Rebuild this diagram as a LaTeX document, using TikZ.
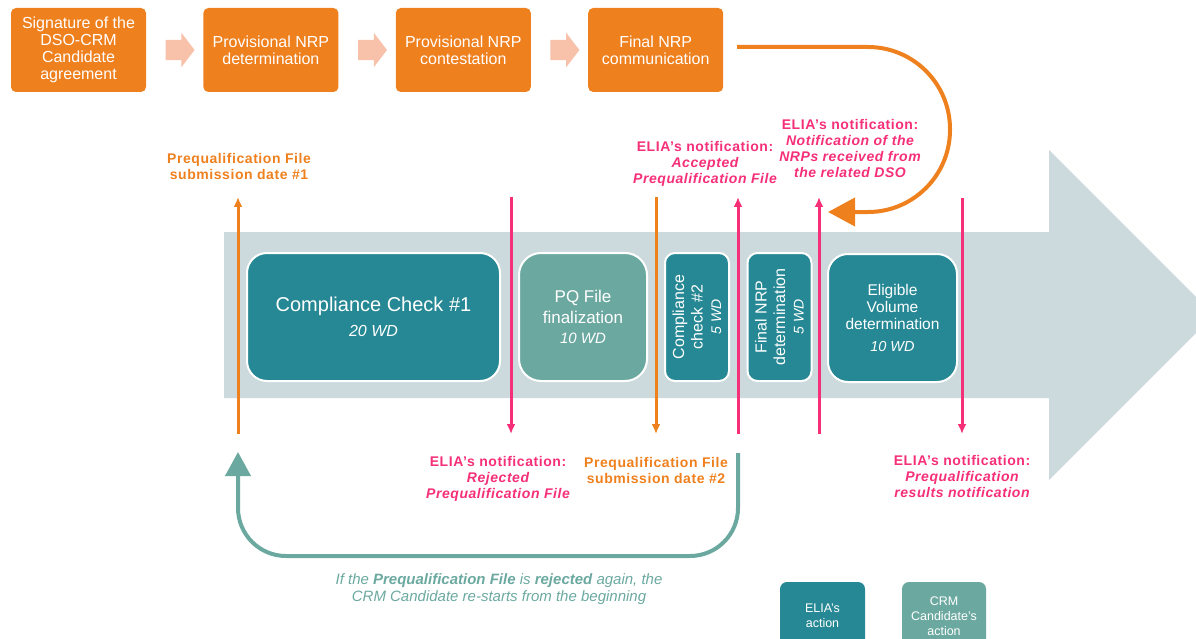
\documentclass[tikz,border=0pt]{standalone}
\usepackage{fontspec}
\setmainfont{Liberation Sans}
\newfontfamily\spacedsans{Liberation Sans}[LetterSpace=4.0, Ligatures=TeX]
\usepackage{tikz}
\usetikzlibrary{calc, positioning, shapes.arrows, arrows.meta}
\definecolor{crmorange}{HTML}{EF801E}
\definecolor{crmsalmon}{HTML}{F8C2AA}
\definecolor{eliapink}{HTML}{F52F78}
\definecolor{eliateal}{HTML}{268894}
\definecolor{candteal}{HTML}{6BA9A0}
\definecolor{flowgray}{HTML}{CCDADE}
\tikzset{
    candbox/.style={fill=crmorange, rounded corners=5pt, text=white, align=center, inner sep=0pt, minimum width=135pt, minimum height=84pt, font=\fontsize{16}{17}\selectfont},
    stepper/.style={single arrow, fill=crmsalmon, inner xsep=0pt, inner ysep=10pt, minimum height=29pt, single arrow head extend=7pt, single arrow tip angle=105},
    eliabox/.style={fill=eliateal, draw=white, line width=2pt, rounded corners=20pt, text=white, align=center, inner sep=0pt, minimum height=128pt},
    candact/.style={eliabox, fill=candteal},
    slim/.style={rotate=90, rounded corners=10pt, minimum width=128pt, minimum height=64pt, font=\fontsize{16}{18.5}\selectfont},
    note/.style={align=center, font=\spacedsans\bfseries\fontsize{14}{16}\selectfont},
    subm/.style={note, text=crmorange},
    notif/.style={note, text=eliapink},
    subline/.style={crmorange, line width=3pt},
    notline/.style={eliapink, line width=3pt},
    tipped/.style={-{Latex[length=10pt,width=9pt]}},
    legendbox/.style={rounded corners=7pt, text=white, align=center, minimum width=85pt, minimum height=68pt, inner sep=0pt, font=\fontsize{12.5}{15}\selectfont} }

\begin{document}
\begin{tikzpicture}[x=1pt, y=-1pt]
    \useasboundingbox (0,0) rectangle (1196,639);
    % candidate side, top row
    \node[candbox] (sig) at (78.5,50) {Signature of the\\DSO-CRM\\Candidate\\agreement};
    \node[candbox, right=57pt of sig] (pnd) {Provisional NRP\\determination};
    \node[candbox, right=57pt of pnd] (pnc) {Provisional NRP\\contestation};
    \node[candbox, right=57pt of pnc] (fnc) {Final NRP\\communication};
    \node[stepper] (st1) at ($(sig.east)!0.5!(pnd.west)+(1.5,0)$) {};
    \node[stepper] (st2) at ($(pnd.east)!0.5!(pnc.west)+(1.5,0)$) {};
    \node[stepper] (st3) at ($(pnc.east)!0.5!(fnc.west)+(1.5,0)$) {};
    % ----
    \fill[flowgray] (224,232) -- (1049,232) -- (1049,150) -- (1214,315) -- (1049,480) -- (1049,398) -- (224,398) -- cycle;
    \node[eliabox, minimum width=253pt, font=\fontsize{20}{25}\selectfont] (cc1) at (373.5,317) {Compliance Check \#1\\{\itshape\fontsize{16}{25}\selectfont 20 WD}};
    \node[candact, minimum width=128pt, rounded corners=22pt, font=\fontsize{17}{20.5}\selectfont] (pqf) at (583,317) {PQ File\\finalization\\{\itshape\fontsize{15}{20.5}\selectfont 10 WD}};
    \node[eliabox, slim] (cc2) at (697,317) {Compliance\\check \#2\\{\itshape\fontsize{14}{17}\selectfont 5 WD}};
    \node[eliabox, slim] (fnd) at (779.5,317) {Final NRP\\determination\\{\itshape\fontsize{14}{17}\selectfont 5 WD}};
    \node[eliabox, minimum width=129pt, font=\fontsize{15.5}{17}\selectfont] (evd) at (892.5,318) {Eligible\\Volume\\determination\\[5pt]{\itshape\fontsize{14.5}{17}\selectfont 10 WD}};
    % ----
    \node[subm] (pq1) at (239,166.5) {Prequalification File\\submission date \#1};
    \node[notif] (nacc) at (705,164) {ELIA's notification:\\{\itshape Accepted}\\{\itshape Prequalification File}};
    \node[notif] (nnrp) at (850,148.5) {ELIA's notification:\\{\itshape Notification of the}\\{\itshape NRPs received from}\\{\itshape the related DSO}};
    \node[notif] (nrej) at (498,479) {ELIA's notification:\\{\itshape Rejected}\\{\itshape Prequalification File}};
    \node[subm] (pq2) at (656,470) {Prequalification File\\submission date \#2};
    \node[notif] (nres) at (962,476) {ELIA's notification:\\{\itshape Prequalification}\\{\itshape results notification}};
    % ----
    \coordinate (pq1top) at (238,197);
    \coordinate (pq1bot) at (238,434);
    \coordinate (rejtop) at (511,197);
    \coordinate (rejbot) at (511,434);
    \coordinate (pq2top) at (656,197);
    \coordinate (pq2bot) at (656,434);
    \coordinate (acctop) at (738,197);
    \coordinate (accbot) at (738,434);
    \coordinate (nrptop) at (819,197);
    \coordinate (nrpbot) at (819,434);
    \coordinate (restop) at (962,198);
    \coordinate (resbot) at (962,434);
    \draw[subline, tipped] (pq1bot) -- (pq1top);
    \draw[notline, tipped] (rejtop) -- (rejbot);
    \draw[subline, tipped] (pq2top) -- (pq2bot);
    \draw[notline, tipped] (accbot) -- (acctop);
    \draw[notline, tipped] (nrpbot) -- (nrptop);
    \draw[notline, tipped] (restop) -- (resbot);
    % ----
    \coordinate (fncout) at (737,47);
    \coordinate (nrpin) at (828,212);
    \draw[crmorange, line width=4pt, rounded corners=82pt, -{Triangle[length=27pt,width=28pt]}] (fncout) -- (950,47) -- (950,212) -- (nrpin);
    \coordinate (loopout) at (738,453);
    \coordinate (loopin) at (238,452);
    \draw[candteal, line width=4pt, rounded corners=48pt, -{Triangle[length=24pt,width=25pt]}] (loopout) -- (738,556) -- (238,556) -- (loopin);
    \node[align=center, text=candteal, font=\itshape\fontsize{15}{16.5}\selectfont] (again) at (499,589) {If the \textbf{Prequalification File} is \textbf{rejected} again, the\\CRM Candidate re-starts from the beginning};
    % ----
    \node[legendbox, fill=eliateal] (keyelia) at (822.5,616) {ELIA's\\action};
    \node[legendbox, fill=candteal, minimum width=84pt] (keycand) at (944,616) {CRM\\Candidate's\\action};
\end{tikzpicture}
\end{document}
